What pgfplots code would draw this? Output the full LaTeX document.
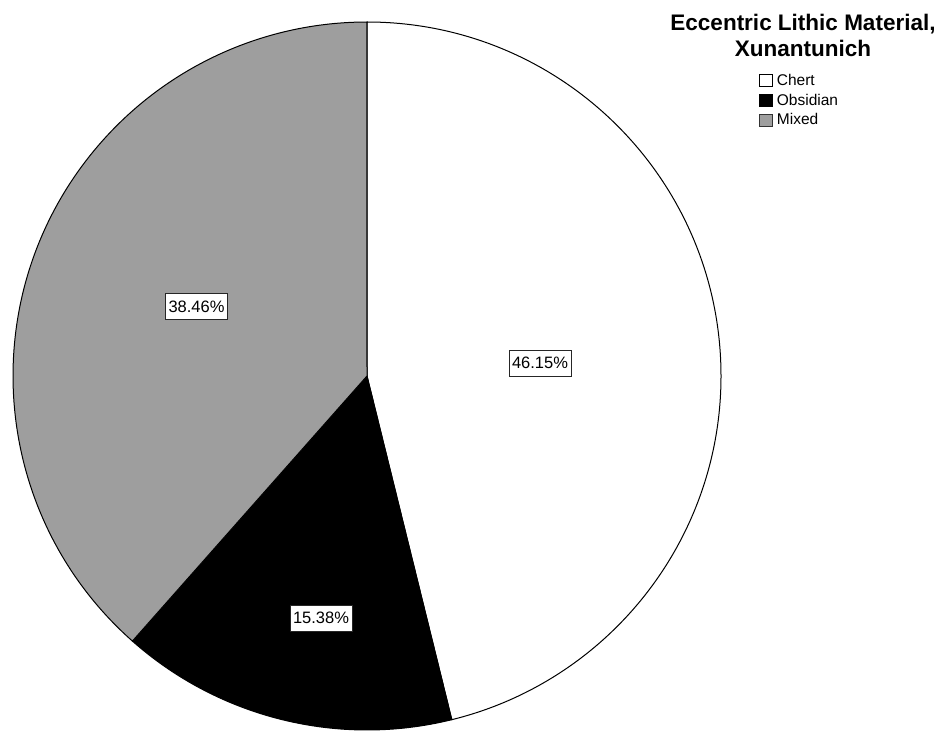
\documentclass[border=0pt]{standalone}
\usepackage{fontspec}
\setmainfont{Liberation Sans}
\usepackage{pgfplots}
\usepackage{pgfplotstable}
\pgfplotsset{compat=1.18}

\definecolor{mixedgray}{RGB}{158,158,158}

% Share of each material (percent)
\pgfplotstableread{
material share
Chert    46.15
Obsidian 15.38
Mixed    38.46
}\piedata

\pgfplotstablegetelem{0}{share}\of\piedata \let\sChert\pgfplotsretval
\pgfplotstablegetelem{1}{share}\of\piedata \let\sObs\pgfplotsretval
\pgfplotstablegetelem{2}{share}\of\piedata \let\sMix\pgfplotsretval

% Slice boundaries, clockwise from 12 o'clock
\pgfmathsetmacro\aStart{90}
\pgfmathsetmacro\aChert{90-3.6*\sChert}
\pgfmathsetmacro\aObs{\aChert-3.6*\sObs}
\pgfmathsetmacro\aMix{\aObs-3.6*\sMix}

\newcommand\pieR{354pt}

\begin{document}
\begin{tikzpicture}
\begin{axis}[
  x={(1pt,0)}, y={(0,1pt)},
  xmin=0, xmax=947, ymin=0, ymax=740,
  hide axis, clip=false,
  at={(0pt,0pt)}, anchor=south west,
  legend image code/.code={\draw[line width=0.9pt,#1] (0pt,-6pt) rectangle (13pt,6pt);},
  legend style={
    draw=none, fill=none,
    at={(axis cs:759,666)}, anchor=north west,
    font=\fontsize{15.5}{18}\selectfont,
    inner sep=0pt, outer sep=0pt,
    row sep=7pt,
    nodes={inner sep=0pt, text height=11pt, text depth=1.5pt, anchor=west},
    column sep=4pt,
  },
  legend cell align=left,
]
  \coordinate (bl) at (axis cs:0,0);
  \coordinate (tr) at (axis cs:947,740);

  % pie slices
  \filldraw[fill=white, draw=black, line width=1pt]
    (axis cs:367,364) -- ++(\aStart:\pieR) arc[start angle=\aStart, end angle=\aChert, radius=\pieR] -- cycle;
  \filldraw[fill=black, draw=black, line width=1pt]
    (axis cs:367,364) -- ++(\aChert:\pieR) arc[start angle=\aChert, end angle=\aObs, radius=\pieR] -- cycle;
  \filldraw[fill=mixedgray, draw=black, line width=1pt]
    (axis cs:367,364) -- ++(\aObs:\pieR) arc[start angle=\aObs, end angle=\aMix, radius=\pieR] -- cycle;

  % value labels
  \tikzset{pielabel/.style={draw=black!85, fill=white, line width=0.9pt,
      font=\fontsize{16.5}{19}\selectfont, inner xsep=3pt,
      text height=12pt, text depth=1pt, minimum height=26pt}}
  \node[pielabel] at (axis cs:540,377) {\sChert\%};
  \node[pielabel] at (axis cs:321,122) {\sObs\%};
  \node[pielabel] at (axis cs:196.5,433.5) {\sMix\%};

  % legend title
  \node[align=center, font=\bfseries\fontsize{22.5}{26}\selectfont, anchor=base]
    at (axis cs:803,683) {Eccentric Lithic Material,\\Xunantunich};

  \addlegendimage{fill=white, draw=black}
  \addlegendentry{Chert}
  \addlegendimage{fill=black, draw=black}
  \addlegendentry{Obsidian}
  \addlegendimage{fill=mixedgray, draw=black!80}
  \addlegendentry{Mixed}
\end{axis}
\pgfresetboundingbox
\path (bl) rectangle (tr);
\end{tikzpicture}
\end{document}
